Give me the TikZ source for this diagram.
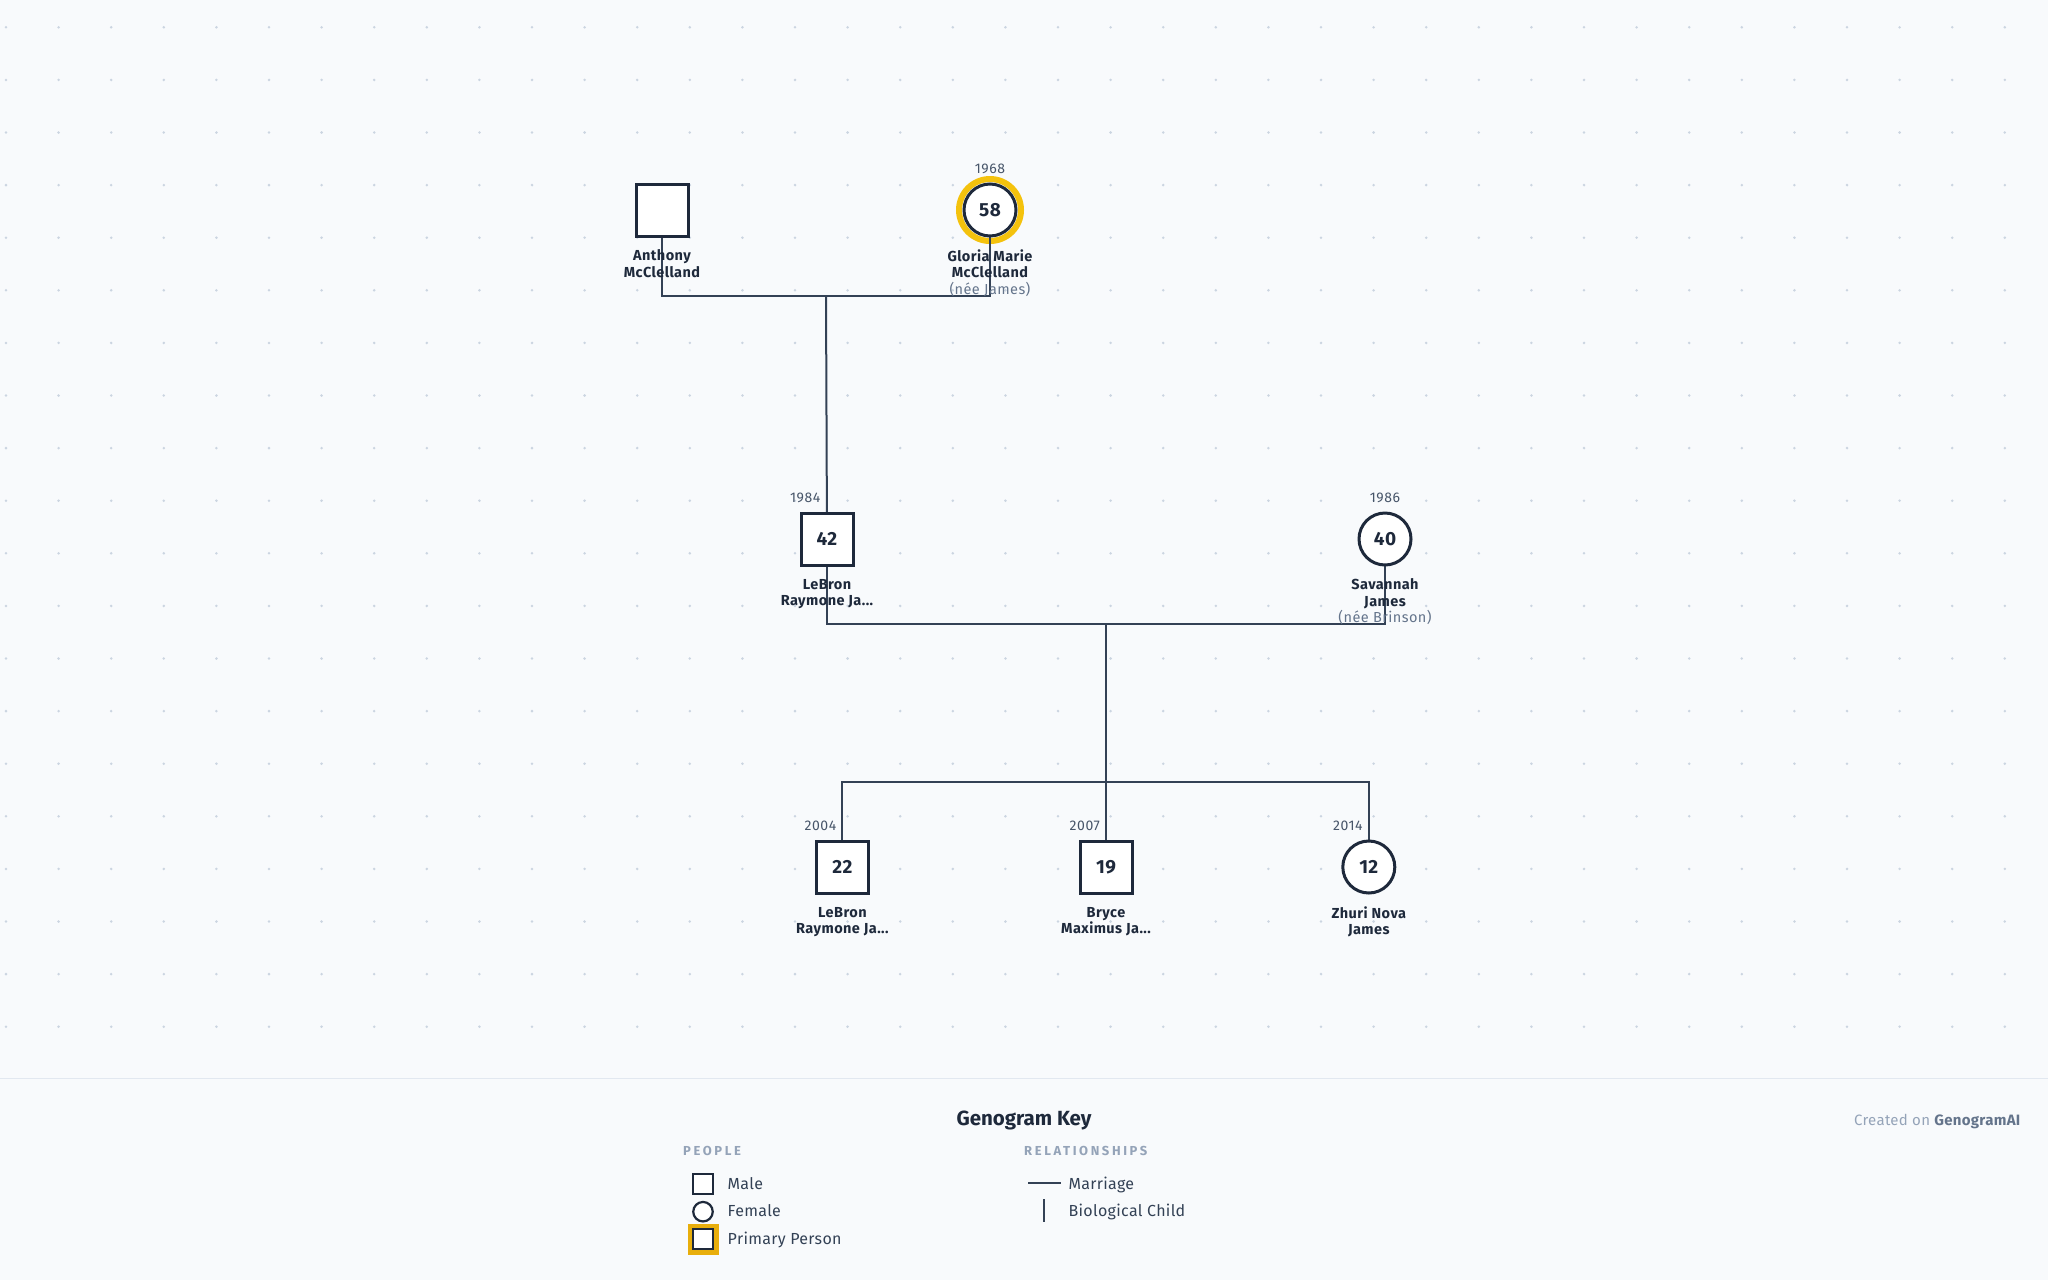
\documentclass[tikz,border=0pt]{standalone}
\usepackage{fontspec}
\setmainfont{Fira Sans}
\usetikzlibrary{backgrounds}
\definecolor{bg}{HTML}{F8FAFC}
\definecolor{ink}{HTML}{1E293B}
\definecolor{linec}{HTML}{334155}
\definecolor{yearc}{HTML}{475569}
\definecolor{neec}{HTML}{64748B}
\definecolor{dotc}{HTML}{CBD5E1}
\definecolor{ringgold}{HTML}{F4C20D}
\definecolor{keygold}{HTML}{E8AE0C}
\definecolor{keygray}{HTML}{94A3B8}
\definecolor{sepc}{HTML}{E2E8F0}
\begin{document}
\begin{tikzpicture}[x=1pt,y=-1pt,
  male/.style={rectangle,draw=ink,line width=3pt,fill=white,minimum size=52pt,inner sep=0pt},
  female/.style={circle,draw=ink,line width=3pt,fill=white,minimum size=52pt,inner sep=0pt},
  age/.style={font=\fontsize{19}{21}\selectfont\bfseries\addfontfeature{LetterSpace=2},text=ink},
  year/.style={font=\fontsize{14}{16}\selectfont\addfontfeature{LetterSpace=4},text=yearc,inner sep=0pt},
  pname/.style={font=\fontsize{14.5}{16.5}\selectfont\bfseries\addfontfeature{LetterSpace=3},text=ink,align=center,anchor=north,inner sep=0pt},
  conn/.style={draw=linec,line width=2pt},
  keymale/.style={rectangle,draw=ink,line width=2.2pt,fill=white,minimum size=19.5pt,inner sep=0pt},
  keyfemale/.style={circle,draw=ink,line width=2.2pt,fill=white,minimum size=19.5pt,inner sep=0pt},
  keytext/.style={font=\fontsize{16}{18}\selectfont\addfontfeature{LetterSpace=2},text=linec,inner sep=0pt,anchor=base west},
  keyhead/.style={font=\fontsize{13}{15}\selectfont\bfseries\addfontfeature{LetterSpace=20},text=keygray,inner sep=0pt,anchor=base west}
]
\useasboundingbox (0,0) rectangle (2048,1280);

% ---------- people ----------
\node[male] (anthony) at (662,210) {};
\node[female,age] (gloria) at (990,210) {58};
\node[male,age] (lebron) at (827,539) {42};
\node[female,age] (savannah) at (1385,539) {40};
\node[male,age] (bronny) at (842.4,867) {22};
\node[male,age] (bryce) at (1106,867) {19};
\node[female,age] (zhuri) at (1368.8,867) {12};

% years
\node[year,anchor=base] (ygloria) at (990,173.3) {1968};
\node[year,anchor=base east] (ylebron) at (820.5,502.3) {1984};
\node[year,anchor=base] (ysavannah) at (1385,502.3) {1986};
\node[year,anchor=base east] (ybronny) at (836.4,830.3) {2004};
\node[year,anchor=base east] (ybryce) at (1100,830.3) {2007};
\node[year,anchor=base east] (yzhuri) at (1362.8,830.3) {2014};

% names
\node[pname] (nanthony) at (662,249.5) {\rule{0pt}{10.5pt}Anthony\\McClelland};
\node[pname] (ngloria) at (990,249.5) {\rule{0pt}{10.5pt}Gloria Marie\\McClelland\\{\mdseries\color{neec}(née James)}};
\node[pname] (nlebron) at (827,578.5) {\rule{0pt}{10.5pt}LeBron\\Raymone Ja...};
\node[pname] (nsavannah) at (1385,578.5) {\rule{0pt}{10.5pt}Savannah\\James\\{\mdseries\color{neec}(née Brinson)}};
\node[pname] (nbronny) at (842.4,906.5) {\rule{0pt}{10.5pt}LeBron\\Raymone Ja...};
\node[pname] (nbryce) at (1106,906.5) {\rule{0pt}{10.5pt}Bryce\\Maximus Ja...};
\node[pname] (nzhuri) at (1368.8,906.5) {\rule{0pt}{10.5pt}Zhuri Nova\\James};

% connector points
\coordinate (m1) at (826,296);
\coordinate (m2) at (1106,624.3);
\coordinate (sib) at (1106,782.4);

% ---------- key ----------
\node[font=\fontsize{20.5}{23}\selectfont\bfseries,text=ink,inner sep=0pt,anchor=base] (keytitle) at (1024,1125.5) {Genogram Key};
\node[keyhead] (hpeople) at (683,1155.3) {PEOPLE};
\node[keyhead] (hrel) at (1024,1155.3) {RELATIONSHIPS};

\node[keymale] (kmale) at (703,1184) {};
\node[keyfemale] (kfemale) at (703,1211.7) {};
\node[rectangle,draw=keygold,line width=4.5pt,fill=white,minimum size=26.5pt,inner sep=0pt] (kprimring) at (703,1239) {};
\node[keymale] (kprim) at (703,1239) {};
\node[keytext] (tmale) at (727.5,1189.3) {Male};
\node[keytext] (tfemale) at (727.5,1216.7) {Female};
\node[keytext] (tprim) at (727.5,1244.2) {Primary Person};

\coordinate (kma) at (1028,1183.3);
\coordinate (kmb) at (1060.5,1183.3);
\coordinate (kca) at (1043.6,1199);
\coordinate (kcb) at (1043.6,1222);
\node[keytext] (tmarriage) at (1068.4,1189.3) {Marriage};
\node[keytext] (tchild) at (1068.4,1216.7) {Biological Child};

\node[inner sep=0pt,anchor=base east,font=\fontsize{15}{17}\selectfont\addfontfeature{LetterSpace=2}] (credit) at (2020.5,1125.3) {\textcolor{keygray}{Created on} \textcolor{neec}{\bfseries GenogramAI}};

% ---------- background layer ----------
\begin{pgfonlayer}{background}
  \fill[bg] (0,0) rectangle (2048,1280);
  \foreach \i in {0,...,38} {
    \foreach \j in {0,...,19} {
      \fill[dotc] ({6+52.6*\i},{27.3+52.6*\j}) circle (1.4);
    }
  }
  \draw[sepc,line width=1.5pt] (0,1078.7) -- (2048,1078.7);
  \draw[ringgold,line width=6pt] (gloria.center) circle (31);
  \draw[conn] (anthony.center) |- (m1) -| (gloria.center);
  \draw[conn] (m1) -- (lebron.center);
  \draw[conn] (lebron.center) |- (m2) -| (savannah.center);
  \draw[conn] (m2) -- (sib);
  \draw[conn] (bronny.center) |- (sib) -| (zhuri.center);
  \draw[conn] (sib) -- (bryce.center);
  \draw[conn] (kma) -- (kmb);
  \draw[conn] (kca) -- (kcb);
\end{pgfonlayer}
\end{tikzpicture}
\end{document}
